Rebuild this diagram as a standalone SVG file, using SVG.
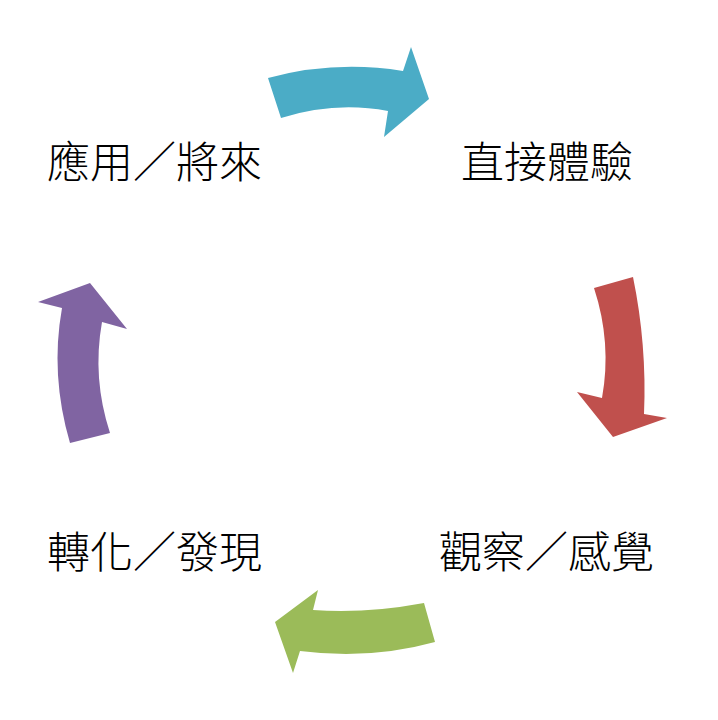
<svg xmlns="http://www.w3.org/2000/svg" width="718" height="720" viewBox="0 0 718 720">
<style>
.lbl{font-family:"Noto Sans CJK TC","Noto Sans CJK SC",sans-serif;font-size:43px;font-weight:300;fill:#000}
</style>
<rect width="718" height="720" fill="#fff"/>
<g id="connectors">
<path id="arrow-blue" d="M268,78 Q335,60 403,71 L411,47 L429,99 L384,137 L388,111 Q335,101 281,118 Z" fill="#4BACC6"/>
<path id="arrow-red" d="M594,288 L633,277 Q647,345 644,414 L667,418 L613,437 L577,392 L602,398 Q612,343 594,288 Z" fill="#C0504D"/>
<path id="arrow-green" d="M424,603 Q365,614 313,610 L318,590 L275,622 L293,673 L300,651 Q370,660 435,642 Z" fill="#9BBB59"/>
<path id="arrow-purple" d="M70,443 L110,433 Q92,378 102,322 L127,329 L90,283 L38,302 L62,308 Q50,375 70,443 Z" fill="#8064A2"/>
</g>
<g id="node-apply"><text class="lbl" x="47" y="178">應用／將來</text></g>
<g id="node-experience"><text class="lbl" x="461" y="178">直接體驗</text></g>
<g id="node-observe"><text class="lbl" x="439" y="568">觀察／感覺</text></g>
<g id="node-transform"><text class="lbl" x="47" y="568">轉化／發現</text></g>
</svg>
